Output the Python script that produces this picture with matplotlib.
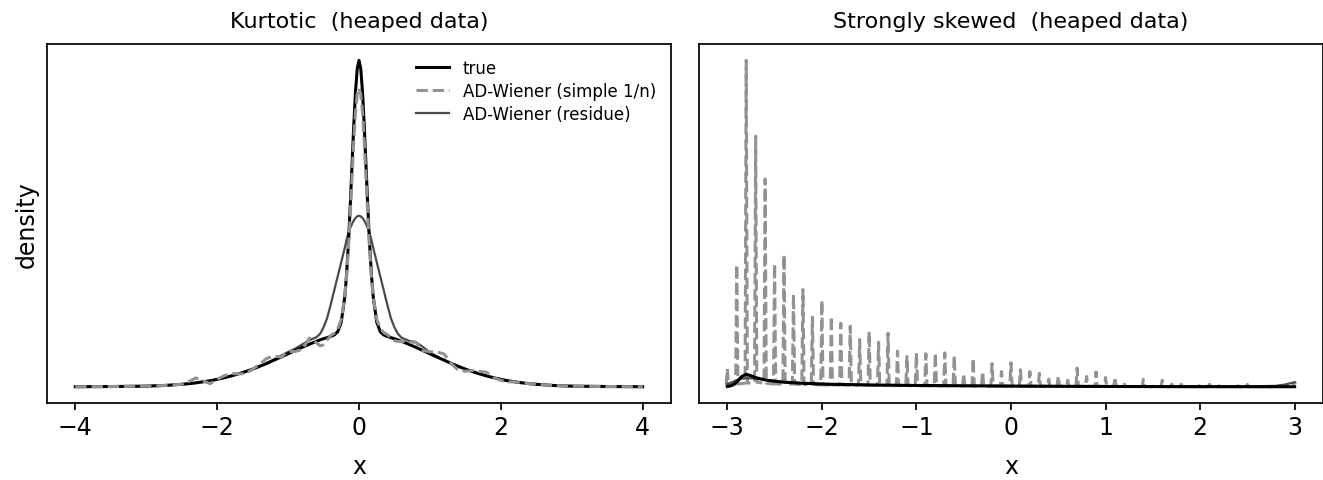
import matplotlib
matplotlib.use("Agg")
import matplotlib.pyplot as plt

# ==========================
# Data
# ==========================

# left panel: kurtotic density, grid of x values
x_left = [-4.0, -3.5, -3.0, -2.75, -2.5, -2.4, -2.3, -2.2, -2.1, -2.0,
          -1.9, -1.8, -1.7, -1.6, -1.5, -1.4, -1.3, -1.2, -1.1, -1.0,
          -0.9, -0.8, -0.7, -0.6, -0.55, -0.5, -0.45, -0.4, -0.35, -0.3, -0.25, -0.2,
          -0.175, -0.15, -0.125, -0.1, -0.075, -0.05, -0.025,
          0.0,
          0.025, 0.05, 0.075, 0.1, 0.125, 0.15, 0.175, 0.2, 0.25, 0.3,
          0.35, 0.4, 0.45, 0.5, 0.55, 0.6, 0.7, 0.8, 0.9, 1.0, 1.1, 1.2,
          1.3, 1.4, 1.5, 1.6, 1.7, 1.8, 1.9, 2.0, 2.1, 2.2,
          2.3, 2.4, 2.5, 2.75, 3.0, 3.5, 4.0]

true_left = [0.0001, 0.001, 0.003, 0.006, 0.012, 0.015, 0.019, 0.024, 0.029, 0.036,
             0.044, 0.053, 0.063, 0.074, 0.086, 0.100, 0.114, 0.130, 0.145, 0.161,
             0.177, 0.193, 0.208, 0.222, 0.229, 0.235, 0.240, 0.246, 0.253, 0.269, 0.316, 0.441,
             0.550, 0.695, 0.873, 1.071, 1.269, 1.439, 1.555,
             1.596,
             1.555, 1.439, 1.269, 1.071, 0.873, 0.695, 0.550, 0.441, 0.316, 0.269,
             0.253, 0.246, 0.240, 0.235, 0.229, 0.222, 0.208, 0.193, 0.177, 0.161, 0.145, 0.130,
             0.114, 0.100, 0.086, 0.074, 0.063, 0.053, 0.044, 0.036, 0.029, 0.024,
             0.019, 0.015, 0.012, 0.006, 0.003, 0.001, 0.0001]

simple_left = [0.0001, 0.001, 0.003, 0.006, 0.012, 0.025, 0.043, 0.029, 0.015, 0.036,
               0.054, 0.065, 0.063, 0.064, 0.086, 0.110, 0.139, 0.150, 0.145, 0.173,
               0.172, 0.183, 0.238, 0.215, 0.200, 0.205, 0.228, 0.250, 0.262, 0.282, 0.330, 0.440,
               0.540, 0.670, 0.830, 1.010, 1.190, 1.340, 1.430,
               1.460,
               1.430, 1.340, 1.190, 1.010, 0.830, 0.670, 0.540, 0.440, 0.330, 0.285,
               0.265, 0.255, 0.240, 0.225, 0.222, 0.222, 0.218, 0.218, 0.177, 0.171, 0.170, 0.160,
               0.114, 0.080, 0.076, 0.079, 0.075, 0.071, 0.044, 0.031, 0.024, 0.024,
               0.019, 0.015, 0.012, 0.006, 0.003, 0.001, 0.0001]

residue_left = [0.0001, 0.001, 0.003, 0.006, 0.012, 0.015, 0.019, 0.024, 0.030, 0.036,
                0.044, 0.053, 0.063, 0.075, 0.087, 0.100, 0.116, 0.133, 0.152, 0.170,
                0.186, 0.207, 0.228, 0.242, 0.258, 0.290, 0.335, 0.400, 0.470, 0.540, 0.610, 0.680,
                0.718, 0.750, 0.775, 0.795, 0.812, 0.825, 0.833,
                0.836,
                0.833, 0.825, 0.812, 0.795, 0.775, 0.750, 0.718, 0.680, 0.610, 0.540,
                0.470, 0.400, 0.335, 0.290, 0.258, 0.240, 0.225, 0.218, 0.195, 0.168, 0.148, 0.130,
                0.114, 0.100, 0.087, 0.075, 0.063, 0.053, 0.044, 0.036, 0.030, 0.024,
                0.019, 0.015, 0.012, 0.006, 0.003, 0.001, 0.0001]

# right panel: strongly skewed density
x_right = [-3.0, -2.95, -2.9, -2.85, -2.8, -2.75, -2.7, -2.6, -2.5, -2.4,
           -2.2, -2.0, -1.8, -1.5, -1.0, -0.5, 0.0, 0.5, 1.0, 1.5,
           2.0, 2.5, 2.8, 2.9, 3.0]

true_right = [0.027, 0.139, 0.522, 1.123, 1.400, 1.230, 1.020, 0.766, 0.615, 0.509,
              0.383, 0.303, 0.253, 0.197, 0.141, 0.104, 0.074, 0.050, 0.031, 0.016,
              0.007, 0.002, 0.001, 0.001, 0.001]

residue_right = [0.30, 0.50, 0.75, 0.90, 0.95, 0.95, 0.90, 0.78, 0.65, 0.53,
                 0.39, 0.31, 0.25, 0.20, 0.14, 0.10, 0.075, 0.05, 0.035, 0.02,
                 0.01, 0.02, 0.10, 0.25, 0.50]

# heap points of the simple 1/n estimate (spikes)
heap_x = [-3.0, -2.9, -2.8, -2.7, -2.6, -2.5, -2.4, -2.3, -2.2, -2.1,
          -2.0, -1.9, -1.8, -1.7, -1.6, -1.5, -1.4, -1.3, -1.2, -1.1,
          -1.0, -0.9, -0.8, -0.7, -0.6, -0.5, -0.4, -0.3, -0.2, -0.1,
          0.0, 0.1, 0.2, 0.3, 0.4, 0.5, 0.6, 0.7, 0.8, 0.9,
          1.0, 1.1, 1.2, 1.3, 1.4, 1.5, 1.6, 1.7, 1.8, 1.9,
          2.0, 2.1, 2.2, 2.3, 2.4, 2.5, 2.6, 2.7, 2.8, 2.9, 3.0]

heap_peak = [2.0, 13.7, 36.6, 28.1, 23.3, 13.8, 14.8, 10.4, 10.9, 7.8,
             9.7, 7.9, 7.1, 6.8, 5.3, 6.2, 5.0, 6.0, 4.0, 3.4,
             3.8, 3.7, 3.8, 3.8, 3.5, 1.5, 3.2, 1.7, 2.6, 1.7,
             2.7, 1.9, 1.7, 1.5, 0.84, 1.2, 0.73, 2.1, 1.15, 1.66,
             1.03, 1.1, 0.28, 0.05, 0.84, 0.05, 0.73, 0.28, 0.28, 0.05,
             0.31, 0.28, 0.1, 0.05, 0.1, 0.25, 0.05, 0.05, 0.1, 0.05, 0.5]

heap_floor = [0.2, 0.3, 0.4, 0.5, 0.4, 0.3, 0.3, 0.3, 0.25, 0.25,
              0.2, 0.2, 0.2, 0.18, 0.18, 0.16, 0.15, 0.14, 0.13, 0.12,
              0.12, 0.11, 0.1, 0.1, 0.09, 0.09, 0.08, 0.08, 0.07, 0.07,
              0.07, 0.06, 0.06, 0.05, 0.05, 0.05, 0.04, 0.04, 0.04, 0.03,
              0.03, 0.03, 0.02, 0.02, 0.02, 0.02, 0.02, 0.01, 0.01, 0.01,
              0.01, 0.01, 0.01, 0.01, 0.01, 0.01, 0.01, 0.01, 0.01, 0.05, 0.3]

# ==========================
# Style
# ==========================
plt.rcParams["font.family"] = ["DejaVu Sans"]
plt.rcParams["axes.linewidth"] = 1.25

C_TRUE = "black"
C_SIMPLE = "#929292"
C_RES = "#4a4a4a"

fig = plt.figure(figsize=(13.23, 4.81), dpi=100)
ax1 = fig.add_axes([0.0355, 0.160, 0.4717, 0.7464])
ax2 = fig.add_axes([0.5283, 0.160, 0.4717, 0.7464])

# ==========================
# Left panel
# ==========================
ax1.plot(x_left, true_left, color=C_TRUE, lw=2.2, label="true", zorder=3)
ax1.plot(x_left, simple_left, color=C_SIMPLE, lw=2.2, ls="--",
         label="AD-Wiener (simple 1/n)", zorder=4)
ax1.plot(x_left, residue_left, color=C_RES, lw=1.6,
         label="AD-Wiener (residue)", zorder=2)
ax1.set_xlim(-4.4, 4.4)
ax1.set_title("Kurtotic  (heaped data)", fontsize=16, pad=12)
ax1.set_ylabel("density", fontsize=17, labelpad=6)
ax1.legend(loc="upper right", frameon=False, fontsize=12, labelspacing=0.3)

# ==========================
# Right panel
# ==========================
spike_x = []
spike_y = []
w = 0.012
for hx, hp, hf in zip(heap_x, heap_peak, heap_floor):
    spike_x += [hx - w, hx, hx + w]
    spike_y += [hf, hp, hf]

ax2.plot(spike_x, spike_y, color=C_SIMPLE, lw=2.2, ls="--", zorder=2)
ax2.plot(x_right, residue_right, color=C_RES, lw=1.6, zorder=3)
ax2.plot(x_right, true_right, color=C_TRUE, lw=2.2, zorder=4)
ax2.set_xlim(-3.3, 3.3)
ax2.set_title("Strongly skewed  (heaped data)", fontsize=16, pad=12)

for ax in (ax1, ax2):
    ax.set_yticks([])
    ax.set_xlabel("x", fontsize=17, labelpad=11)
    ax.tick_params(axis="x", labelsize=17, length=5, width=1.25)

fig.savefig("out.png", dpi=100)
